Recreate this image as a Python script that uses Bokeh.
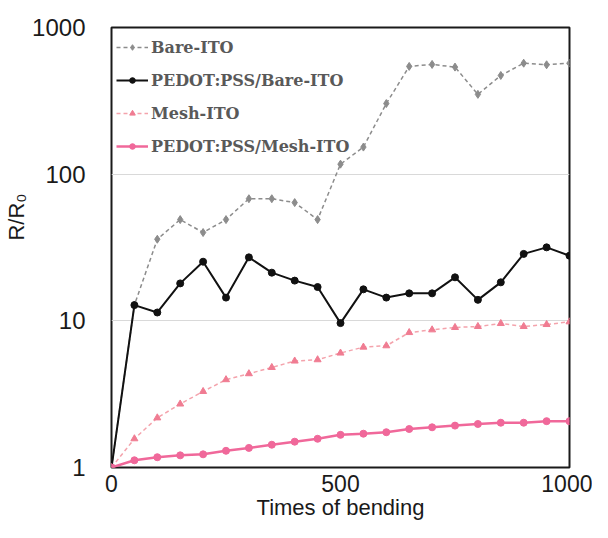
from bokeh.plotting import figure
from bokeh.models import (ColumnDataSource, Range1d, FixedTicker, PrintfTickFormatter,
                          Legend, LegendItem, Title)
from bokeh.embed import file_html
from bokeh.resources import INLINE

bending = [0, 50, 100, 150, 200, 250, 300, 350, 400, 450, 500,
           550, 600, 650, 700, 750, 800, 850, 900, 950, 1000]
bare_ito = [1, 12.8, 36, 49, 40, 49, 68, 68, 64, 49, 117,
            153, 303, 543, 560, 537, 350, 471, 571, 557, 571]
pedot_bare_ito = [1, 12.8, 11.4, 18.0, 25.3, 14.4, 27.1, 21.3, 18.8, 17.0, 9.65,
                  16.4, 14.4, 15.4, 15.4, 19.8, 13.9, 18.3, 28.6, 31.7, 27.8]
mesh_ito = [1, 1.57, 2.18, 2.71, 3.30, 3.97, 4.36, 4.81, 5.32, 5.43, 6.03,
            6.62, 6.76, 8.32, 8.68, 9.01, 9.15, 9.59, 9.15, 9.44, 9.85]
pedot_mesh_ito = [1, 1.12, 1.175, 1.21, 1.23, 1.30, 1.36, 1.43, 1.50, 1.57, 1.67,
                  1.70, 1.74, 1.83, 1.88, 1.93, 1.98, 2.02, 2.02, 2.07, 2.07]
y_ticks = [1, 10, 100, 1000]
x_ticks = [0, 500, 1000]
series_names = ["Bare-ITO", "PEDOT:PSS/Bare-ITO", "Mesh-ITO", "PEDOT:PSS/Mesh-ITO"]
x_title = "Times of bending"
y_title = "R/R\u2080"

src = ColumnDataSource(dict(x=bending, a=bare_ito, b=pedot_bare_ito,
                            c=mesh_ito, d=pedot_mesh_ito))

p = figure(width=592, height=522, output_backend="svg", toolbar_location=None,
           y_axis_type="log", x_range=Range1d(0, 1000), y_range=Range1d(1, 1000),
           min_border_left=111, min_border_right=23, min_border_top=27,
           min_border_bottom=54)

p.outline_line_color = "#1a1a1a"
p.outline_line_width = 2
p.background_fill_color = "white"
p.border_fill_color = "white"

p.xgrid.visible = False
p.ygrid.grid_line_color = "#d9d9d9"
p.ygrid.grid_line_width = 1.2

for ax in (p.xaxis[0], p.yaxis[0]):
    ax.axis_line_color = None
    ax.major_tick_line_color = None
    ax.minor_tick_line_color = None
    ax.major_label_text_font = "Liberation Sans"
    ax.major_label_text_color = "#1a1a1a"
    ax.axis_label_text_font = "Liberation Sans"
    ax.axis_label_text_font_style = "normal"
    ax.axis_label_text_color = "#1a1a1a"

p.yaxis.ticker = FixedTicker(ticks=y_ticks, minor_ticks=[])
p.yaxis.formatter = PrintfTickFormatter(format="%d")
p.yaxis.major_label_standoff = 20
p.yaxis.major_label_text_font_size = "24px"

p.xaxis.ticker = FixedTicker(ticks=x_ticks, minor_ticks=[])
p.xaxis.major_label_standoff = 1
p.xaxis.major_label_text_font_size = "23px"
p.xaxis.axis_label = x_title
p.xaxis.axis_label_text_font_size = "22px"
p.xaxis.axis_label_standoff = 0

ytitle = Title(text=y_title, align="right", offset=166, vertical_align="middle",
               standoff=0, text_font="Liberation Sans", text_font_size="22px",
               text_font_style="normal", text_color="#1a1a1a")
p.add_layout(ytitle, "left")

l1 = p.line("x", "a", source=src, line_color="#8c8c8c", line_width=1.5, line_dash="4 3")
m1 = p.scatter("x", "a", source=src, marker="diamond", size=8, color="#8c8c8c")
l2 = p.line("x", "b", source=src, line_color="#111111", line_width=2)
m2 = p.scatter("x", "b", source=src, marker="circle", size=7, color="#111111")
l3 = p.line("x", "c", source=src, line_color="#f4a3ac", line_width=1.5, line_dash="4 3")
m3 = p.scatter("x", "c", source=src, marker="triangle", size=7, color="#f07c92")
l4 = p.line("x", "d", source=src, line_color="#f0689a", line_width=2.5)
m4 = p.scatter("x", "d", source=src, marker="circle", size=7, color="#f0689a")

legend = Legend(items=[
    LegendItem(label=series_names[0], renderers=[l1, m1]),
    LegendItem(label=series_names[1], renderers=[l2, m2]),
    LegendItem(label=series_names[2], renderers=[l3, m3]),
    LegendItem(label=series_names[3], renderers=[l4, m4]),
], location="top_left")
legend.margin = 5
legend.padding = 5
legend.spacing = 3
legend.glyph_width = 32
legend.glyph_height = 14
legend.label_height = 30
legend.label_standoff = 3
legend.label_text_font = "DejaVu Serif"
legend.label_text_font_style = "bold"
legend.label_text_font_size = "16px"
legend.label_text_color = "#595959"
legend.border_line_color = None
legend.background_fill_alpha = 0
p.add_layout(legend)

open("out.html", "w").write(file_html(p, INLINE))
